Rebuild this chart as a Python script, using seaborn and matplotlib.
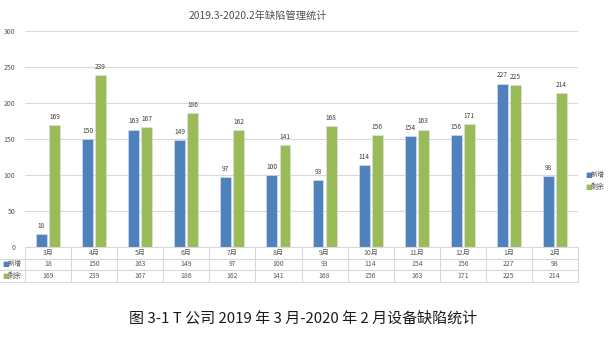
import matplotlib
matplotlib.use("Agg")
import matplotlib.pyplot as plt
import matplotlib.transforms as mtransforms
import seaborn as sns
import pandas as pd

months = ["3月", "4月", "5月", "6月", "7月", "8月", "9月", "10月", "11月", "12月", "1月", "2月"]
new_counts = [18, 150, 163, 149, 97, 100, 93, 114, 154, 156, 227, 98]
remaining = [169, 239, 167, 186, 162, 141, 168, 156, 163, 171, 225, 214]
series_names = ["新增", "剩余"]
y_ticks = [0, 50, 100, 150, 200, 250, 300]

title = "2019.3-2020.2年缺陷管理统计"
caption = "图 3-1 T 公司 2019 年 3 月-2020 年 2 月设备缺陷统计"

colors = ["#4F81BD", "#9BBB59"]
grid_c = "#D9D9D9"
text_c = "#595959"

sns.set_theme(style="white")
plt.rcParams["font.family"] = ["Noto Sans CJK SC", "DejaVu Sans"]

df = pd.DataFrame({
    "month": months * 2,
    "value": new_counts + remaining,
    "series": [series_names[0]] * len(months) + [series_names[1]] * len(months),
})

fig = plt.figure(figsize=(6.10, 3.39), dpi=100)
ax = fig.add_axes([25 / 610, 1 - 247 / 339, (578 - 25) / 610, (247 - 31) / 339])

sns.barplot(data=df, x="month", y="value", hue="series", order=months,
            hue_order=series_names, palette=colors, saturation=1,
            width=0.57, gap=0.17, edgecolor="#DCE6F2", linewidth=0.4,
            legend=False, ax=ax)

ax.set_xlim(-0.5, len(months) - 0.5)
ax.set_ylim(0, 300)
ax.set_yticks(y_ticks)
ax.set_yticklabels([str(t) for t in y_ticks], fontsize=5, color=text_c)
ax.tick_params(axis="y", length=0, pad=7)
ax.set_xticks([])
ax.set_xlabel("")
ax.set_ylabel("")
ax.yaxis.grid(True, color=grid_c, linewidth=0.8)
ax.set_axisbelow(True)
for s in ["top", "right", "left"]:
    ax.spines[s].set_visible(False)
ax.spines["bottom"].set_color(grid_c)
ax.spines["bottom"].set_linewidth(0.8)

# value labels above each bar
for cont in ax.containers:
    ax.bar_label(cont, fmt="%d", fontsize=4.8, color="#404040", padding=3)

# data table beneath the plot
blend = mtransforms.blended_transform_factory(ax.transData, ax.transAxes)
fig_row = mtransforms.blended_transform_factory(fig.transFigure, ax.transAxes)
row_h = 11.5 / 216
rows_y = [-0.5 * row_h, -1.5 * row_h, -2.5 * row_h]
line_kw = dict(color=grid_c, linewidth=0.8, clip_on=False)
for i in range(len(months) + 1):
    ax.plot([i - 0.5, i - 0.5], [0, -3 * row_h], transform=blend, **line_kw)
for k in (1, 2, 3):
    ax.plot([0, 1], [-k * row_h, -k * row_h], transform=ax.transAxes, **line_kw)
    ax.plot([0, 25 / 610], [-k * row_h, -k * row_h], transform=fig_row, **line_kw)

for i, m in enumerate(months):
    ax.text(i, rows_y[0], m, transform=blend, ha="center", va="center",
            fontsize=5, color=text_c)
    ax.text(i, rows_y[1], str(new_counts[i]), transform=blend, ha="center",
            va="center", fontsize=5, color=text_c)
    ax.text(i, rows_y[2], str(remaining[i]), transform=blend, ha="center",
            va="center", fontsize=5, color=text_c)

# row headers inside the table
for name, col, yy in zip(series_names, colors, rows_y[1:]):
    ax.text(2 / 610, yy, "■", transform=fig_row, ha="left", va="center",
            fontsize=5, color=col, family="DejaVu Sans")
    ax.text(8 / 610, yy, name, transform=fig_row, ha="left", va="center",
            fontsize=5, color=text_c)

# legend on the right
for name, col, ypx in zip(series_names, colors, [175, 187]):
    fig.text(585 / 610, 1 - ypx / 339, "■", ha="left", va="center",
             fontsize=5, color=col, family="DejaVu Sans")
    fig.text(591 / 610, 1 - ypx / 339, name, ha="left", va="center",
             fontsize=5, color=text_c)

fig.text(258 / 610, 1 - 16 / 339, title, ha="center", va="center",
         fontsize=7.4, color="#505050")
fig.text(303 / 610, 1 - 318 / 339, caption, ha="center", va="center",
         fontsize=10.8, color="#1a1a1a")

fig.savefig("out.png", dpi=100)
